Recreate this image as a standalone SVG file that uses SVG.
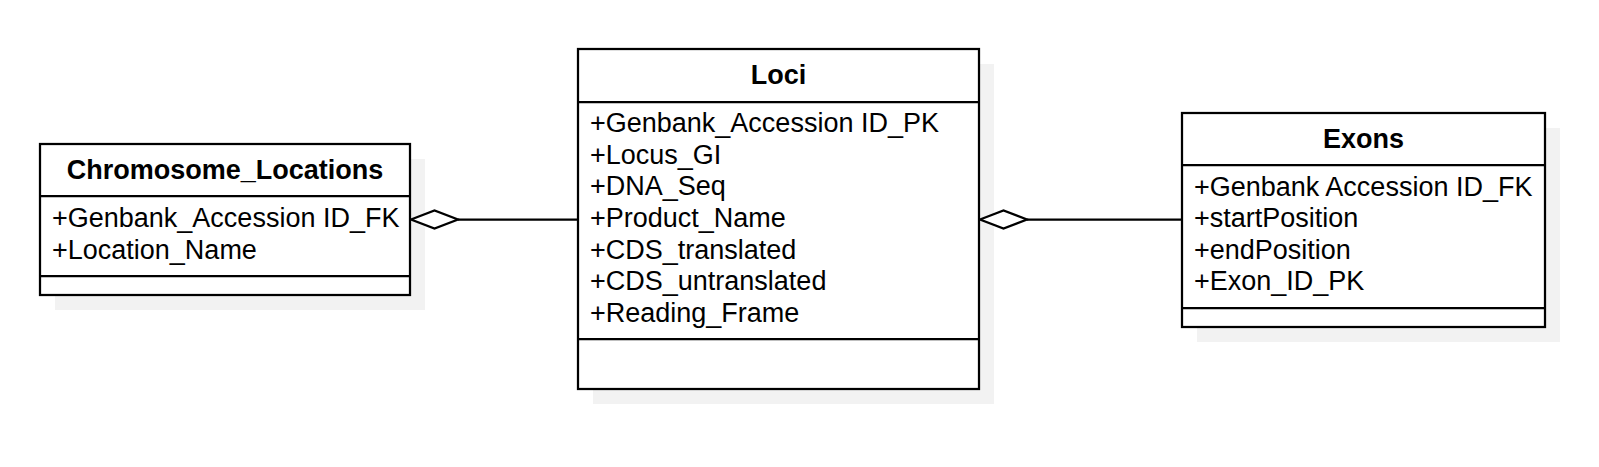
<svg xmlns="http://www.w3.org/2000/svg" width="1599" height="467" viewBox="0 0 1599 467">
<style>
.box{fill:#ffffff;stroke:#000000;stroke-width:2.25}
.div{stroke:#000000;stroke-width:2.25;fill:none}
.shadow{fill:#f2f2f2;stroke:none}
.title{font-family:"Liberation Sans",Arial,sans-serif;font-size:27px;font-weight:bold;fill:#000000;text-anchor:middle}
.attr{font-family:"Liberation Sans",Arial,sans-serif;font-size:27px;fill:#000000}
.edge{stroke:#000000;stroke-width:2.25;fill:none}
.diamond{fill:#ffffff;stroke:#000000;stroke-width:2.25;stroke-linejoin:miter}
</style>
<rect width="1599" height="467" fill="#ffffff"/>
<g id="shadows">
<rect class="shadow" x="55" y="159" width="370" height="151"/>
<rect class="shadow" x="593" y="64" width="401" height="340"/>
<rect class="shadow" x="1197" y="128" width="363" height="214"/>
</g>
<g id="connectors">
<line class="edge" x1="458" y1="219.5" x2="578" y2="219.5"/>
<polygon class="diamond" points="411,219.5 434.5,210.5 458,219.5 434.5,228.5"/>
<line class="edge" x1="1027" y1="219.5" x2="1182" y2="219.5"/>
<polygon class="diamond" points="980,219.5 1003.5,210.5 1027,219.5 1003.5,228.5"/>
</g>
<g id="chromosome_locations">
<rect class="box" x="40" y="144" width="370" height="151"/>
<line class="div" x1="40" y1="196" x2="410" y2="196"/>
<line class="div" x1="40" y1="276" x2="410" y2="276"/>
<text class="title" x="225" y="179">Chromosome_Locations</text>
<text class="attr" x="52" y="227">+Genbank_Accession ID_FK</text>
<text class="attr" x="52" y="259">+Location_Name</text>
</g>
<g id="loci">
<rect class="box" x="578" y="49" width="401" height="340"/>
<line class="div" x1="578" y1="102" x2="979" y2="102"/>
<line class="div" x1="578" y1="339" x2="979" y2="339"/>
<text class="title" x="778.5" y="84">Loci</text>
<text class="attr" x="590" y="132">+Genbank_Accession ID_PK</text>
<text class="attr" x="590" y="163.7">+Locus_GI</text>
<text class="attr" x="590" y="195.3">+DNA_Seq</text>
<text class="attr" x="590" y="227">+Product_Name</text>
<text class="attr" x="590" y="258.7">+CDS_translated</text>
<text class="attr" x="590" y="290.3">+CDS_untranslated</text>
<text class="attr" x="590" y="322">+Reading_Frame</text>
</g>
<g id="exons">
<rect class="box" x="1182" y="113" width="363" height="214"/>
<line class="div" x1="1182" y1="165" x2="1545" y2="165"/>
<line class="div" x1="1182" y1="308" x2="1545" y2="308"/>
<text class="title" x="1363.5" y="148">Exons</text>
<text class="attr" x="1194" y="195.5">+Genbank Accession ID_FK</text>
<text class="attr" x="1194" y="227">+startPosition</text>
<text class="attr" x="1194" y="258.7">+endPosition</text>
<text class="attr" x="1194" y="290.3">+Exon_ID_PK</text>
</g>
</svg>
